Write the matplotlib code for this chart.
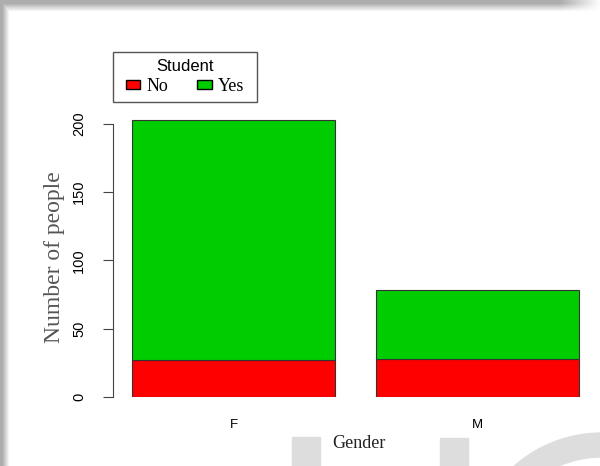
import numpy as np
import matplotlib
matplotlib.use("Agg")
from matplotlib import pyplot as plt
import matplotlib.patches as mpatches

# data
genders = ["F", "M"]
no_students = [27, 28]
yes_students = [176, 50]
y_ticks = [0, 50, 100, 150, 200]

RED = "#FF0000"
GREEN = "#00CD00"

W, H = 600, 466
fig = plt.figure(figsize=(6, 4.66), dpi=100)

# background: white card with a grey shadow on top and left, plus faint watermark
bg = fig.add_axes([0, 0, 1, 1])
bg.set_xlim(0, W)
bg.set_ylim(H, 0)
bg.axis("off")
xs = np.arange(W)
ys = np.arange(H)
left = np.clip((xs - 2) / 7.0, 0, 1)
top = np.clip((ys - 3) / 8.0, 0, 1)
fade = np.clip((W - xs) / 40.0, 0, 1)[None, :]
topshade = 1 - (1 - top[:, None]) * fade
leftshade = left[None, :] * np.ones((H, 1))
card = np.minimum(topshade, leftshade)
img = 0.68 + 0.32 * card
bg.imshow(np.dstack([img, img, img]), extent=(0, W, H, 0), aspect="auto", zorder=0)
wm = "#dddddd"
bg.add_patch(mpatches.Rectangle((292, 437), 28, 40, color=wm, zorder=1))
bg.add_patch(mpatches.Rectangle((440, 438), 28, 40, color=wm, zorder=1))
bg.add_patch(mpatches.Wedge((602, 566), 133, 180, 300, width=24, color=wm, zorder=1))
# legend frame
bg.add_patch(mpatches.Rectangle((113, 52), 144, 50, facecolor="white",
                                edgecolor="#555555", linewidth=1.0, zorder=2))

# main axes placed so the bars land where they sit in the reference
ax = fig.add_axes([113 / W, 69 / H, (589 - 113) / W, (397 - 110) / H])
ax.patch.set_alpha(0)
x = np.array([0.7, 1.9])
ax.bar(x, no_students, width=1.0, color=RED, edgecolor="#333333", linewidth=0.8)
ax.bar(x, yes_students, width=1.0, bottom=no_students, color=GREEN,
       edgecolor="#333333", linewidth=0.8)
ax.set_xlim(0.106, 2.45)
ax.set_ylim(0, 210)

for s in ["top", "right", "bottom"]:
    ax.spines[s].set_visible(False)
ax.spines["left"].set_bounds(0, 200)
ax.spines["left"].set_color("#444444")
ax.set_yticks(y_ticks)
ax.set_yticklabels([str(v) for v in y_ticks], rotation=90, va="center",
                   fontsize=10.5, family="Liberation Sans")
ax.tick_params(axis="y", length=7.2, color="#444444", pad=12)
ax.set_xticks(x)
ax.set_xticklabels(genders, fontsize=9.5, family="Liberation Sans")
ax.tick_params(axis="x", length=0, pad=16)

fig.text(359 / W, 1 - 443 / H, "Gender", ha="center", va="center",
         fontsize=13, family="Liberation Serif", color="#222222")
fig.text(55 / W, 1 - 257 / H, "Number of people", ha="center", va="center",
         rotation=90, fontsize=17, family="Liberation Serif", color="#555555")

handles = [mpatches.Patch(facecolor=RED, edgecolor="black", label="No"),
           mpatches.Patch(facecolor=GREEN, edgecolor="black", label="Yes")]
leg = fig.legend(handles=handles, title="Student", ncol=2, loc="center",
                 bbox_to_anchor=(185 / W, 1 - 77 / H), frameon=False,
                 prop={"family": "Liberation Serif", "size": 13},
                 handlelength=0.8, handleheight=0.35, handletextpad=0.35,
                 columnspacing=1.6, borderpad=0.2, borderaxespad=0,
                 labelspacing=0.2)
leg.get_title().set_fontfamily("Liberation Sans")
leg.get_title().set_fontsize(12)
leg.set_zorder(5)

fig.savefig("out.png", dpi=100)
